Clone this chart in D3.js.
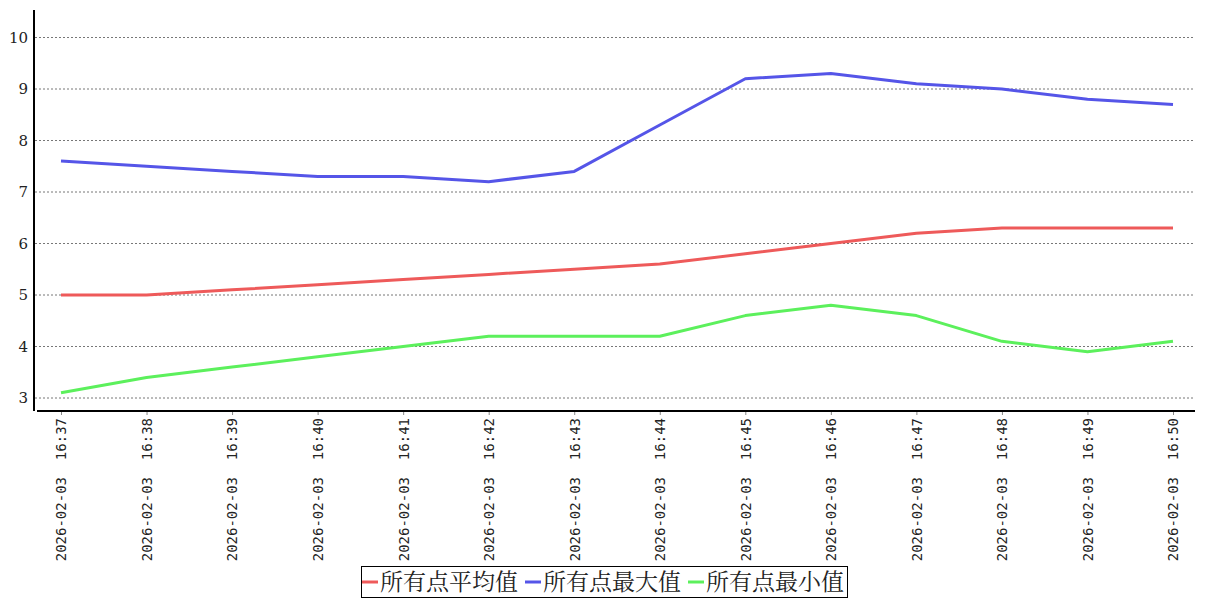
<!DOCTYPE html>
<html><head><meta charset="utf-8">
<script src="https://cdn.jsdelivr.net/npm/d3@7"></script>
<style>body{margin:0;background:#fff}svg{display:block}</style>
</head><body>
<svg id="c" width="1207" height="600"></svg>
<script>
const categories = ["2026-02-03  16:37","2026-02-03  16:38","2026-02-03  16:39","2026-02-03  16:40","2026-02-03  16:41","2026-02-03  16:42","2026-02-03  16:43","2026-02-03  16:44","2026-02-03  16:45","2026-02-03  16:46","2026-02-03  16:47","2026-02-03  16:48","2026-02-03  16:49","2026-02-03  16:50"];
const avgValues = [5.0,5.0,5.1,5.2,5.3,5.4,5.5,5.6,5.8,6.0,6.2,6.3,6.3,6.3];
const maxValues = [7.6,7.5,7.4,7.3,7.3,7.2,7.4,8.3,9.2,9.3,9.1,9.0,8.8,8.7];
const minValues = [3.1,3.4,3.6,3.8,4.0,4.2,4.2,4.2,4.6,4.8,4.6,4.1,3.9,4.1];
const seriesNames = ["所有点平均值","所有点最大值","所有点最小值"];
const seriesColors = ["#ee5a5a","#5555e8","#5cf05c"];
const yTicks = [3,4,5,6,7,8,9,10];

const svg = d3.select("#c");
const x = d3.scalePoint().domain(categories).range([61,1173]);
const y = d3.scaleLinear().domain([3,10]).range([398,37.5]);

// grid
svg.append("g").selectAll("line").data(yTicks).join("line")
  .attr("x1",35).attr("x2",1195).attr("y1",d=>y(d)).attr("y2",d=>y(d))
  .attr("stroke","#777").attr("stroke-width",1).attr("stroke-dasharray","2,2");

// y axis
const ya = svg.append("g").attr("transform","translate(34,0)")
  .call(d3.axisLeft(y).tickValues(yTicks).tickFormat(d3.format("d")).tickSize(0).tickPadding(6));
ya.select(".domain").remove();
ya.selectAll("text").attr("font-family","DejaVu Serif").attr("font-size",15).attr("fill","#222");
svg.append("line").attr("x1",34).attr("x2",34).attr("y1",10).attr("y2",411).attr("stroke","#000").attr("stroke-width",2);

// x axis
const xa = svg.append("g").attr("transform","translate(0,411)")
  .call(d3.axisBottom(x).tickSize(4).tickPadding(6));
xa.select(".domain").remove();
xa.selectAll(".tick line").attr("stroke","#888");
xa.selectAll("text").attr("font-family","DejaVu Sans Mono").attr("font-size",14).attr("fill","#222")
  .attr("transform","rotate(-90)").attr("text-anchor","end").attr("dy","0.35em").attr("x",-7).attr("y",0)
  .text(d=>d.replace("  ","\u00a0\u00a0"));
svg.append("line").attr("x1",37).attr("x2",1195).attr("y1",411).attr("y2",411).attr("stroke","#000").attr("stroke-width",2);

// lines
const all = [avgValues,maxValues,minValues];
const line = d3.line().x((d,i)=>x(categories[i])).y(d=>y(d));
all.forEach((vals,k)=>{
  svg.append("path").datum(vals).attr("d",line).attr("fill","none")
    .attr("stroke",seriesColors[k]).attr("stroke-width",3).attr("stroke-linejoin","round");
});

// legend
const lg = svg.append("g");
lg.append("rect").attr("x",361.5).attr("y",566.5).attr("width",486).attr("height",31)
  .attr("fill","#fff").attr("stroke","#000").attr("stroke-width",1);
const itemX = [362,525,688];
seriesNames.forEach((n,k)=>{
  lg.append("line").attr("x1",itemX[k]).attr("x2",itemX[k]+16).attr("y1",582).attr("y2",582)
    .attr("stroke",seriesColors[k]).attr("stroke-width",3);
  lg.append("text").attr("x",itemX[k]+18).attr("y",590).text(n)
    .attr("font-family","'Noto Serif CJK SC','Noto Sans CJK SC'").attr("font-size",23).attr("fill","#222");
});
</script>
</body></html>
